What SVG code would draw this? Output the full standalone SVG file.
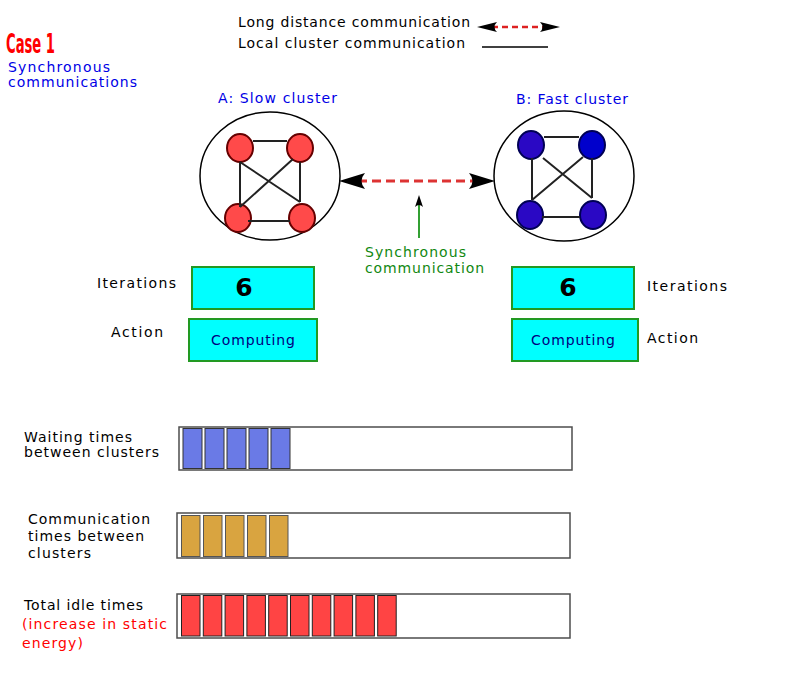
<svg xmlns="http://www.w3.org/2000/svg" width="800" height="698" viewBox="0 0 800 698">
<style>
text{font-family:"DejaVu Sans","Liberation Sans",sans-serif;font-size:14px;}
.blk{fill:#000;}
.blue{fill:#0000e6;}
.green{fill:#118811;}
.red{fill:#ff0000;}
.navy{fill:#000080;}
.big{font-size:25px;font-weight:bold;}
.case{font-size:26px;font-weight:bold;font-stretch:condensed;fill:#ff0000;}
.cl{fill:#fff;stroke:#000;stroke-width:1.5;}
.rn{fill:#ff4a4a;stroke:#660000;stroke-width:2;}
.bn{fill:#2a08c4;stroke:#000055;stroke-width:2;}
.bn2{fill:#0000cc;stroke:#000055;stroke-width:2;}
.edge{stroke:#222;stroke-width:2;fill:none;}
.box{fill:#00ffff;stroke:#229922;stroke-width:2;}
.bar{fill:#fff;stroke:#4d4d4d;stroke-width:1.5;}
.wb{fill:#6a7ae6;stroke:#333;stroke-width:1;}
.cb{fill:#d9a440;stroke:#555;stroke-width:1;}
.ib{fill:#ff4444;stroke:#222;stroke-width:1;}
</style>
<defs>
<marker id="ah" markerUnits="userSpaceOnUse" viewBox="-8 -9 28 18" markerWidth="28" markerHeight="18" refX="0" refY="0" orient="auto-start-reverse">
<path d="M19,0 L-7,-8 Q0,0 -7,8 Z" fill="#000"/>
</marker>
<marker id="ahs" markerUnits="userSpaceOnUse" viewBox="-6 -6 22 12" markerWidth="22" markerHeight="12" refX="0" refY="0" orient="auto-start-reverse">
<path d="M15,0 L-5,-5 Q0,0 -5,5 Z" fill="#000"/>
</marker>
<marker id="ahg" markerUnits="userSpaceOnUse" viewBox="-5 -5 15 10" markerWidth="15" markerHeight="10" refX="0" refY="0" orient="auto">
<path d="M8,0 L-4,-4 Q0,0 -4,4 Z" fill="#000"/>
</marker>
</defs>

<g id="title">
<text class="case" x="6" y="53" textLength="49" lengthAdjust="spacingAndGlyphs">Case 1</text>
<text class="blue" x="8" y="72" textLength="102">Synchronous</text>
<text class="blue" x="8" y="87" textLength="129">communications</text>
</g>

<g id="legend">
<text class="blk" x="238" y="27" textLength="232">Long distance communication</text>
<text class="blk" x="238" y="48" textLength="227">Local cluster communication</text>
<line x1="492" y1="27" x2="545" y2="27" stroke="#dd2222" stroke-width="2.5" stroke-dasharray="6,4" marker-start="url(#ahs)" marker-end="url(#ahs)"/>
<line x1="482" y1="47" x2="548" y2="47" stroke="#000" stroke-width="1.5"/>
</g>

<g id="clusterA">
<text class="blue" x="218" y="103" textLength="119">A: Slow cluster</text>
<ellipse class="cl" cx="270" cy="176" rx="70" ry="64"/>
<ellipse class="rn" cx="240" cy="148" rx="13" ry="14"/>
<ellipse class="rn" cx="300" cy="148" rx="13" ry="14"/>
<ellipse class="rn" cx="238" cy="218" rx="13" ry="14"/>
<ellipse class="rn" cx="302" cy="218" rx="13" ry="14"/>
<path class="edge" d="M253,141 H287 M240,162 V207 M300,162 V202 M248,221 H290 M240,162 L300,202 M293,159 L240,207"/>
</g>

<g id="clusterB">
<text class="blue" x="516" y="104" textLength="112">B: Fast cluster</text>
<ellipse class="cl" cx="564" cy="176" rx="70" ry="65"/>
<ellipse class="bn" cx="531" cy="145" rx="13" ry="14"/>
<ellipse class="bn2" cx="592" cy="145" rx="13" ry="14"/>
<ellipse class="bn" cx="530" cy="215" rx="13" ry="14"/>
<ellipse class="bn" cx="593" cy="215" rx="13" ry="14"/>
<path class="edge" d="M544,137 H579 M532,158 V200 M592,158 V198 M542,217 H580 M543,158 L592,198 M583,157 L532,200"/>
</g>

<g id="connectors">
<line x1="358" y1="181" x2="476" y2="181" stroke="#dd3333" stroke-width="3" stroke-dasharray="9,5" marker-start="url(#ah)" marker-end="url(#ah)"/>
<line x1="419" y1="238" x2="419" y2="203" stroke="#33a033" stroke-width="2" marker-end="url(#ahg)"/>
</g>

<g id="syncLabel">
<text class="green" x="365" y="257" textLength="101">Synchronous</text>
<text class="green" x="365" y="273" textLength="119">communication</text>
</g>

<g id="leftBoxes">
<text class="blk" x="97" y="288" textLength="79">Iterations</text>
<rect class="box" x="192" y="267" width="122" height="42"/>
<text class="blk big" x="244" y="296" text-anchor="middle">6</text>
<text class="blk" x="111" y="337" textLength="52">Action</text>
<rect class="box" x="189" y="319" width="128" height="42"/>
<text class="navy" x="211" y="345" textLength="84">Computing</text>
</g>

<g id="rightBoxes">
<rect class="box" x="512" y="267" width="122" height="42"/>
<text class="blk big" x="568" y="296" text-anchor="middle">6</text>
<text class="blk" x="647" y="291" textLength="80">Iterations</text>
<rect class="box" x="512" y="319" width="126" height="42"/>
<text class="navy" x="531" y="345" textLength="84">Computing</text>
<text class="blk" x="647" y="343" textLength="51">Action</text>
</g>

<g id="waiting">
<text class="blk" x="24" y="442" textLength="108">Waiting times</text>
<text class="blk" x="24" y="457" textLength="135">between clusters</text>
<rect class="bar" x="179" y="427" width="393" height="43"/>
<rect class="wb" x="183" y="428.5" width="19" height="40"/>
<rect class="wb" x="205" y="428.5" width="19" height="40"/>
<rect class="wb" x="227" y="428.5" width="19" height="40"/>
<rect class="wb" x="249" y="428.5" width="19" height="40"/>
<rect class="wb" x="271" y="428.5" width="19" height="40"/>
</g>

<g id="communication">
<text class="blk" x="28" y="524" textLength="122">Communication</text>
<text class="blk" x="28" y="541" textLength="116">times between</text>
<text class="blk" x="28" y="558" textLength="63">clusters</text>
<rect class="bar" x="177" y="513" width="393" height="45"/>
<rect class="cb" x="181.5" y="515.5" width="18.5" height="41"/>
<rect class="cb" x="203.5" y="515.5" width="18.5" height="41"/>
<rect class="cb" x="225.5" y="515.5" width="18.5" height="41"/>
<rect class="cb" x="247.5" y="515.5" width="18.5" height="41"/>
<rect class="cb" x="269.5" y="515.5" width="18.5" height="41"/>
</g>

<g id="idle">
<text class="blk" x="24" y="610" textLength="119">Total idle times</text>
<text class="red" x="22" y="629" textLength="145">(increase in static</text>
<text class="red" x="22" y="648" textLength="61">energy)</text>
<rect class="bar" x="177" y="594" width="393" height="44"/>
<rect class="ib" x="181.5" y="595.5" width="18.5" height="40.5"/>
<rect class="ib" x="203.3" y="595.5" width="18.5" height="40.5"/>
<rect class="ib" x="225.1" y="595.5" width="18.5" height="40.5"/>
<rect class="ib" x="246.9" y="595.5" width="18.5" height="40.5"/>
<rect class="ib" x="268.7" y="595.5" width="18.5" height="40.5"/>
<rect class="ib" x="290.5" y="595.5" width="18.5" height="40.5"/>
<rect class="ib" x="312.3" y="595.5" width="18.5" height="40.5"/>
<rect class="ib" x="334.1" y="595.5" width="18.5" height="40.5"/>
<rect class="ib" x="355.9" y="595.5" width="18.5" height="40.5"/>
<rect class="ib" x="377.7" y="595.5" width="18.5" height="40.5"/>
</g>
</svg>
